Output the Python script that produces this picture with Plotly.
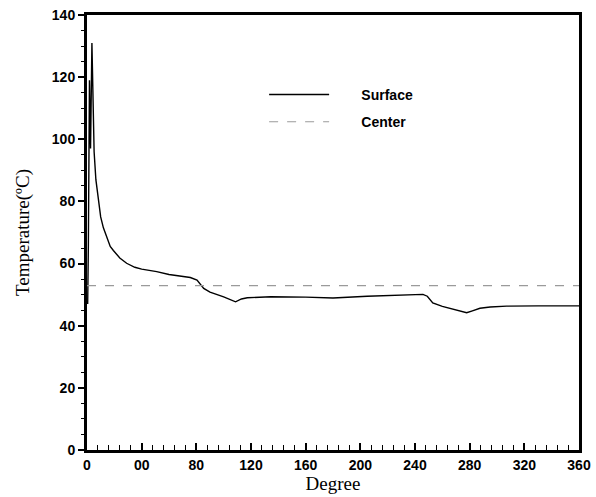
import plotly.graph_objects as go

# Data
surface_x = [0.5, 1.0, 1.8, 2.6, 3.6, 4.5, 5.2, 6.5, 8.3, 10, 12, 14.4, 17, 19.3, 24, 29, 35, 40,
             51, 60, 70, 75.6, 80.5, 83, 85.4, 90, 100, 108.7, 113, 117.3, 134.5, 160, 180, 205,
             230, 245.8, 249, 253, 260, 270, 277.8, 282, 287.5, 295, 307, 330, 360]
surface_y = [47, 66, 119, 97, 131, 105, 96, 87, 80, 75, 71.5, 68.5, 65.5, 64.2, 61.8, 60.1, 58.8, 58.2,
             57.4, 56.5, 55.8, 55.5, 54.7, 53.5, 52.0, 50.8, 49.3, 47.7, 48.6, 49.0, 49.3, 49.2, 48.9, 49.5,
             50.0, 50.1, 49.5, 47.3, 46.2, 45.2, 44.2, 44.8, 45.6, 46.0, 46.3, 46.4, 46.4]
center_x = [0, 360]
center_y = [52.9, 52.9]

x_tickvals = [0, 40, 80, 120, 160, 200, 240, 280, 320, 360]
x_ticktext = ["0", "00", "80", "120", "160", "200", "240", "280", "320", "360"]
y_tickvals = [0, 20, 40, 60, 80, 100, 120, 140]

pad = "\u00a0" * 7
fig = go.Figure()
fig.add_trace(go.Scatter(x=surface_x, y=surface_y, mode="lines", name=pad + "Surface",
                         legendgroup="s", line=dict(color="black", width=1.4)))
fig.add_trace(go.Scatter(x=center_x, y=center_y, mode="lines", name=pad + "Center",
                         legendgroup="c", line=dict(color="#9a9a9a", width=1.2, dash="dash")))

tickfont = dict(family="Liberation Sans, Arial", size=14, color="black", weight="bold")
titlefont = dict(family="Liberation Serif, Times New Roman", size=19, color="black")

fig.update_layout(
    width=596, height=497,
    margin=dict(l=87, r=17, t=15, b=47),
    paper_bgcolor="white", plot_bgcolor="white",
    showlegend=True,
    legend=dict(x=0.36, y=0.853, xanchor="left", yanchor="top", bgcolor="rgba(0,0,0,0)",
                font=dict(family="Liberation Sans, Arial", size=14, color="black", weight="bold"),
                itemwidth=60, tracegroupgap=6),
    xaxis=dict(range=[0, 360], tickvals=x_tickvals, ticktext=x_ticktext, automargin=False,
               ticks="inside", ticklen=7, tickwidth=2, tickcolor="black",
               minor=dict(dtick=8, ticks="inside", ticklen=5, tickwidth=1, tickcolor="black"),
               showline=True, linewidth=3, linecolor="black", mirror=True,
               showgrid=False, zeroline=False, tickfont=tickfont,
               title=dict(text="Degree", font=titlefont, standoff=4)),
    yaxis=dict(range=[0, 140], tickvals=y_tickvals, automargin=False,
               ticks="outside", ticklen=6, tickwidth=1.5, tickcolor="black",
               minor=dict(dtick=5, ticks="outside", ticklen=3, tickwidth=1, tickcolor="black"),
               showline=True, linewidth=3, linecolor="black", mirror=True,
               showgrid=False, zeroline=False, tickfont=tickfont,
               title=dict(text="Temperature(ºC)", font=titlefont, standoff=18)),
)

fig.write_html("out.html", config={"displayModeBar": False},
               post_script="document.body.style.margin='0';document.body.style.overflow='hidden';")
